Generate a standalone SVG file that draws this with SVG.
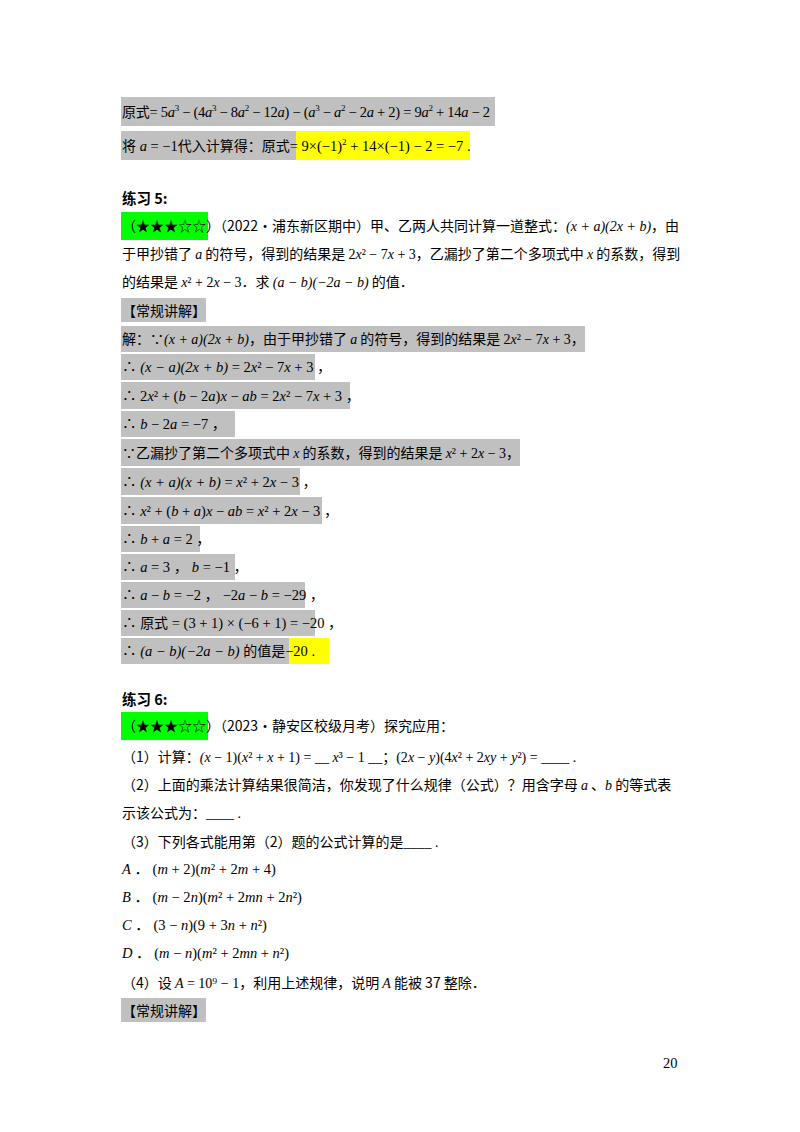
<svg xmlns="http://www.w3.org/2000/svg" width="800" height="1132" viewBox="0 0 800 1132">
<style>
text{font-family:"Liberation Serif","Noto Sans CJK SC",serif;font-size:14.5px;fill:#000}
.c{font-family:"Noto Sans CJK SC","Liberation Sans",sans-serif;font-size:14px}
.b{font-family:"Noto Sans CJK SC",sans-serif;font-size:14.5px;font-weight:bold}
.i{font-style:italic}
.g{fill:#c0c0c0}.y{fill:#ffff00}.gr{fill:#00ff00}
.s{font-size:9px}
</style>
<rect width="800" height="1132" fill="#fff"/>
<g id="top">
<rect class="g" x="121" y="97" width="374" height="29"/>
<rect class="g" x="121" y="131" width="175" height="29"/>
<rect class="y" x="296" y="131" width="174" height="29"/>
<text x="122" y="117" textLength="368" lengthAdjust="spacing"><tspan class="c">原式</tspan>= 5<tspan class="i">a</tspan><tspan class="s" dy="-6">3</tspan><tspan dy="6"> − (4</tspan><tspan class="i">a</tspan><tspan class="s" dy="-6">3</tspan><tspan dy="6"> − 8</tspan><tspan class="i">a</tspan><tspan class="s" dy="-6">2</tspan><tspan dy="6"> − 12</tspan><tspan class="i">a</tspan>) − (<tspan class="i">a</tspan><tspan class="s" dy="-6">3</tspan><tspan dy="6"> − </tspan><tspan class="i">a</tspan><tspan class="s" dy="-6">2</tspan><tspan dy="6"> − 2</tspan><tspan class="i">a</tspan> + 2) = 9<tspan class="i">a</tspan><tspan class="s" dy="-6">2</tspan><tspan dy="6"> + 14</tspan><tspan class="i">a</tspan> − 2</text>
<text x="122" y="151"><tspan class="c">将</tspan> <tspan class="i">a</tspan> = −1<tspan class="c">代入计算得：原式</tspan>= 9×(−1)<tspan class="s" dy="-6">2</tspan><tspan dy="6"> + 14×(−1) − 2 = −7 .</tspan></text>
</g>
<g id="ex5">
<text class="b" x="122" y="204">练习 5:</text>
<rect class="gr" x="121" y="212" width="87" height="28"/>
<text class="c" x="122" y="231">（★★★☆☆）（2022•浦东新区期中）甲、乙两人共同计算一道整式：<tspan class="i" font-family="Liberation Serif">(x + a)(2x + b)</tspan>，由</text>
<text class="c" x="122" y="259">于甲抄错了 <tspan class="i" font-family="Liberation Serif">a</tspan> 的符号，得到的结果是 <tspan font-family="Liberation Serif">2<tspan class="i">x</tspan>² − 7<tspan class="i">x</tspan> + 3</tspan>，乙漏抄了第二个多项式中 <tspan class="i" font-family="Liberation Serif">x</tspan> 的系数，得到</text>
<text class="c" x="122" y="287">的结果是 <tspan font-family="Liberation Serif"><tspan class="i">x</tspan>² + 2<tspan class="i">x</tspan> − 3</tspan>．求 <tspan class="i" font-family="Liberation Serif">(a − b)(−2a − b)</tspan> 的值．</text>
<rect class="g" x="121" y="298" width="85" height="24"/>
<text class="c" x="122" y="316">【常规讲解】</text>
<rect class="g" x="121" y="326" width="464" height="26"/>
<text class="c" x="122" y="344">解：∵<tspan class="i" font-family="Liberation Serif">(x + a)(2x + b)</tspan>，由于甲抄错了 <tspan class="i" font-family="Liberation Serif">a</tspan> 的符号，得到的结果是 <tspan font-family="Liberation Serif">2<tspan class="i">x</tspan>² − 7<tspan class="i">x</tspan> + 3</tspan>，</text>
<rect class="g" x="121" y="354" width="194" height="26"/>
<text x="122" y="372">∴ <tspan class="i">(x − a)(2x + b)</tspan> = 2<tspan class="i">x</tspan>² − 7<tspan class="i">x</tspan> + 3 ，</text>
<rect class="g" x="121" y="382" width="229" height="27"/>
<text x="122" y="401">∴ 2<tspan class="i">x</tspan>² + (<tspan class="i">b</tspan> − 2<tspan class="i">a</tspan>)<tspan class="i">x</tspan> − <tspan class="i">ab</tspan> = 2<tspan class="i">x</tspan>² − 7<tspan class="i">x</tspan> + 3 ，</text>
<rect class="g" x="121" y="411" width="114" height="26"/>
<text x="122" y="429">∴ <tspan class="i">b</tspan> − 2<tspan class="i">a</tspan> = −7 ，</text>
<rect class="g" x="121" y="439" width="399" height="27"/>
<text class="c" x="122" y="458">∵乙漏抄了第二个多项式中 <tspan class="i" font-family="Liberation Serif">x</tspan> 的系数，得到的结果是 <tspan font-family="Liberation Serif"><tspan class="i">x</tspan>² + 2<tspan class="i">x</tspan> − 3</tspan>，</text>
<rect class="g" x="121" y="468" width="179" height="27"/>
<text x="122" y="487">∴ <tspan class="i">(x + a)(x + b)</tspan> = <tspan class="i">x</tspan>² + 2<tspan class="i">x</tspan> − 3 ，</text>
<rect class="g" x="121" y="497" width="201" height="27"/>
<text x="122" y="516">∴ <tspan class="i">x</tspan>² + (<tspan class="i">b</tspan> + <tspan class="i">a</tspan>)<tspan class="i">x</tspan> − <tspan class="i">ab</tspan> = <tspan class="i">x</tspan>² + 2<tspan class="i">x</tspan> − 3 ，</text>
<rect class="g" x="121" y="526" width="79" height="26"/>
<text x="122" y="544">∴ <tspan class="i">b</tspan> + <tspan class="i">a</tspan> = 2 ，</text>
<rect class="g" x="121" y="554" width="114" height="26"/>
<text x="122" y="572">∴ <tspan class="i">a</tspan> = 3 ， <tspan class="i">b</tspan> = −1 ，</text>
<rect class="g" x="121" y="582" width="184" height="26"/>
<text x="122" y="600">∴ <tspan class="i">a</tspan> − <tspan class="i">b</tspan> = −2 ， −2<tspan class="i">a</tspan> − <tspan class="i">b</tspan> = −29 ，</text>
<rect class="g" x="121" y="610" width="194" height="26"/>
<text x="122" y="628">∴ <tspan class="c">原式</tspan> = (3 + 1) × (−6 + 1) = −20 ，</text>
<rect class="g" x="121" y="638" width="168" height="26"/>
<rect class="y" x="289" y="638" width="40" height="26"/>
<text x="122" y="656">∴ <tspan class="i">(a − b)(−2a − b)</tspan> <tspan class="c">的值是</tspan>−20 .</text>
</g>
<g id="ex6">
<text class="b" x="122" y="705">练习 6:</text>
<rect class="gr" x="121" y="712" width="87" height="28"/>
<text class="c" x="122" y="731">（★★★☆☆）（2023•静安区校级月考）探究应用：</text>
<text class="c" x="122" y="762">（1）计算：<tspan font-family="Liberation Serif"><tspan class="i">(x</tspan> − 1)(<tspan class="i">x</tspan>² + <tspan class="i">x</tspan> + 1) = __ <tspan class="i">x</tspan>³ − 1 __</tspan>；<tspan font-family="Liberation Serif">(2<tspan class="i">x</tspan> − <tspan class="i">y</tspan>)(4<tspan class="i">x</tspan>² + 2<tspan class="i">xy</tspan> + <tspan class="i">y</tspan>²) = ____ .</tspan></text>
<text class="c" x="122" y="790">（2）上面的乘法计算结果很简洁，你发现了什么规律（公式）？用含字母 <tspan class="i" font-family="Liberation Serif">a</tspan> 、<tspan class="i" font-family="Liberation Serif">b</tspan> 的等式表</text>
<text class="c" x="122" y="818">示该公式为：<tspan font-family="Liberation Serif">____ .</tspan></text>
<text class="c" x="122" y="847">（3）下列各式能用第（2）题的公式计算的是<tspan font-family="Liberation Serif">____ .</tspan></text>
<text x="122" y="874"><tspan class="i">A</tspan> ． (<tspan class="i">m</tspan> + 2)(<tspan class="i">m</tspan>² + 2<tspan class="i">m</tspan> + 4)</text>
<text x="122" y="902"><tspan class="i">B</tspan> ． (<tspan class="i">m</tspan> − 2<tspan class="i">n</tspan>)(<tspan class="i">m</tspan>² + 2<tspan class="i">mn</tspan> + 2<tspan class="i">n</tspan>²)</text>
<text x="122" y="930"><tspan class="i">C</tspan> ． (3 − <tspan class="i">n</tspan>)(9 + 3<tspan class="i">n</tspan> + <tspan class="i">n</tspan>²)</text>
<text x="122" y="958"><tspan class="i">D</tspan> ． (<tspan class="i">m</tspan> − <tspan class="i">n</tspan>)(<tspan class="i">m</tspan>² + 2<tspan class="i">mn</tspan> + <tspan class="i">n</tspan>²)</text>
<text class="c" x="122" y="988">（4）设 <tspan font-family="Liberation Serif"><tspan class="i">A</tspan> = 10⁹ − 1</tspan>，利用上述规律，说明 <tspan class="i" font-family="Liberation Serif">A</tspan> 能被 37 整除．</text>
<rect class="g" x="121" y="998" width="85" height="24"/>
<text class="c" x="122" y="1016">【常规讲解】</text>
</g>
<text x="663" y="1068" font-size="13">20</text>
</svg>
